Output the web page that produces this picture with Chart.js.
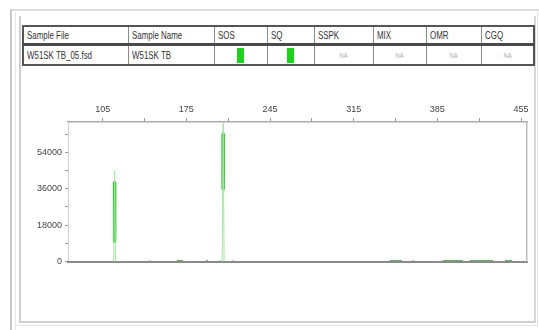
<!DOCTYPE html>
<html>
<head>
<meta charset="utf-8">
<script src="https://cdn.jsdelivr.net/npm/chart.js@4/dist/chart.umd.min.js"></script>
<style>
  html, body { margin: 0; padding: 0; background: #fff; }
  body { width: 539px; height: 330px; position: relative; overflow: hidden;
         font-family: "Liberation Sans", Arial, sans-serif; }
  .frameTop { position: absolute; left: 11px; top: 9px; width: 528px; height: 0; border-top: 2px solid #dcdcdc; }
  .frameLeft { position: absolute; left: 10px; top: 9px; width: 2px; height: 321px; background: #c9c9c9; }
  .frameLeft2 { position: absolute; left: 15px; top: 12px; width: 1px; height: 318px; background: #e6e6e6; }
  .panel { position: absolute; left: 19px; top: 16px; width: 513px; height: 305px;
           border-left: 2px solid #cfcfcf; border-bottom: 2px solid #cfcfcf; border-right: 2px solid #d8d8d8; }
  .outerBottom { position: absolute; left: 15px; top: 325px; width: 522px; height: 0; border-top: 1px solid #e2e2e2; }
  .outerRight { position: absolute; left: 537px; top: 12px; width: 0; height: 314px; border-left: 1px solid #e2e2e2; }
  table.info { position: absolute; left: 22px; top: 25px; border-collapse: collapse; table-layout: fixed;
               width: 511px; font-size: 11px; color: #333; }
  table.info td { border-left: 1px solid #8a8a8a; padding: 0 0 0 3px; white-space: nowrap; overflow: hidden; }
  table.info td span.txt { display: inline-block; transform: scaleX(0.72); transform-origin: 0 50%; }
  table.info tr.head td { height: 16px; border-top: 2px solid #555; border-bottom: 3px solid #4a4a4a; }
  table.info tr.row td { height: 18px; border-bottom: 2px solid #555; }
  table.info td:first-child { border-left: 2px solid #555; }
  table.info td:last-child { border-right: 2px solid #555; }
  table.info td.mid { text-align: center; padding: 0; }
  table.info td.na { text-align: center; padding: 0; color: #aaa; font-size: 8px; }
  table.info td.na span.txt { transform-origin: 50% 50%; }
  .flag { display: inline-block; width: 7px; height: 15px; background: #1ed11e; vertical-align: middle; }
  #chartBox { position: absolute; left: 20px; top: 90px; width: 515px; height: 180px; }
</style>
</head>
<body>
<div class="frameTop"></div>
<div class="frameLeft"></div>
<div class="frameLeft2"></div>
<div class="outerBottom"></div>
<div class="outerRight"></div>
<div class="panel"></div>

<table class="info" id="info">
  <colgroup>
    <col style="width:105px"><col style="width:86px"><col style="width:53px"><col style="width:47px">
    <col style="width:59px"><col style="width:53px"><col style="width:55px"><col style="width:53px">
  </colgroup>
  <tr class="head" id="headRow"></tr>
  <tr class="row" id="valueRow"></tr>
</table>

<div id="chartBox"><canvas id="chart"></canvas></div>

<script>
// Sample table contents
const columnNames = ["Sample File", "Sample Name", "SOS", "SQ", "SSPK", "MIX", "OMR", "CGQ"];
const sampleFile = "W51SK TB_05.fsd";
const sampleName = "W51SK TB";
const passFlags = ["SOS", "SQ"];
const naColumns = ["SSPK", "MIX", "OMR", "CGQ"];

// Main peaks: apex size (bp), apex height (RFU), half-width of base (bp)
const peakSize = [115.0, 205.8];
const peakRfu = [45000, 68400];
const peakHalfWidth = [0.7, 0.8];
// Dense (saturated) part of each peak trace, in RFU
const coreLow = [10000, 36000];
const coreHigh = [39000, 63000];

// Low-level baseline signal: start size, end size, signal (RFU)
const bumpStart = [143.6, 166.8, 191.4, 202.6, 213.6, 345.0, 364.0, 389.6, 412.0, 441.6];
const bumpEnd   = [145.2, 172.2, 193.0, 203.6, 215.0, 355.5, 365.4, 406.4, 431.6, 447.6];
const bumpRfu   = [300, 500, 500, 300, 300, 500, 400, 500, 500, 500];

// Axis ticks
const xTickValues = [105, 140, 175, 210, 245, 280, 315, 350, 385, 420, 455];
const xLabelValues = [105, 175, 245, 315, 385, 455];
const yTickValues = [0, 9000, 18000, 27000, 36000, 45000, 54000, 63000];
const yLabelValues = [0, 18000, 36000, 54000];

// Build the table
function textSpan(t) {
  const s = document.createElement("span");
  s.className = "txt";
  s.textContent = t;
  return s;
}
const headRow = document.getElementById("headRow");
columnNames.forEach(name => {
  const td = document.createElement("td");
  td.appendChild(textSpan(name));
  headRow.appendChild(td);
});
const valueRow = document.getElementById("valueRow");
columnNames.forEach((name, i) => {
  const td = document.createElement("td");
  if (i === 0) td.appendChild(textSpan(sampleFile));
  else if (i === 1) td.appendChild(textSpan(sampleName));
  else if (passFlags.includes(name)) {
    td.className = "mid";
    const f = document.createElement("span");
    f.className = "flag";
    td.appendChild(f);
  } else if (naColumns.includes(name)) {
    td.className = "na";
    td.appendChild(textSpan("NA"));
  }
  valueRow.appendChild(td);
});

// Peak outlines (thin spikes) and their dense cores, separated by gaps
const outlinePoints = [];
const corePoints = [];
peakSize.forEach((s, i) => {
  outlinePoints.push({ x: s - peakHalfWidth[i], y: 0 }, { x: s, y: peakRfu[i] },
                     { x: s + peakHalfWidth[i], y: 0 }, { x: s + peakHalfWidth[i] + 0.1, y: null });
  corePoints.push({ x: s, y: coreLow[i] }, { x: s, y: coreHigh[i] }, { x: s + 0.1, y: null });
});

// Baseline signal as separate dashes
const bumpPoints = [];
bumpStart.forEach((s, i) => {
  bumpPoints.push({ x: s, y: bumpRfu[i] }, { x: bumpEnd[i], y: bumpRfu[i] }, { x: bumpEnd[i] + 0.1, y: null });
});

const tickFont = { family: "'Liberation Sans', Arial, sans-serif", size: 9 };

new Chart(document.getElementById("chart"), {
  type: "line",
  data: {
    datasets: [{
      data: outlinePoints,
      borderColor: "#a6e4a6",
      borderWidth: 1,
      pointRadius: 0,
      tension: 0,
      fill: false,
      spanGaps: false
    }, {
      data: corePoints,
      borderColor: "#2ec42e",
      borderWidth: 3.5,
      borderCapStyle: "round",
      pointRadius: 0,
      fill: false,
      spanGaps: false
    }, {
      data: bumpPoints,
      borderColor: "#5aa65a",
      borderWidth: 1,
      pointRadius: 0,
      tension: 0,
      fill: false,
      spanGaps: false
    }]
  },
  options: {
    responsive: true,
    maintainAspectRatio: false,
    animation: false,
    layout: { padding: { top: 0, right: 8, bottom: 8, left: 0 } },
    plugins: { legend: { display: false }, tooltip: { enabled: false } },
    scales: {
      x: {
        type: "linear", position: "top", min: 76, max: 460,
        afterBuildTicks: s => { s.ticks = xTickValues.map(v => ({ value: v })); },
        afterFit: s => { s.height = 32; },
        ticks: {
          autoSkip: false, maxRotation: 0, padding: 3, color: "#444", font: tickFont,
          callback: v => xLabelValues.includes(v) ? String(v) : ""
        },
        grid: { drawOnChartArea: false, drawTicks: true, tickLength: 4, tickColor: "#999" },
        border: { color: "#aaa", width: 1.5 }
      },
      y: {
        type: "linear", position: "left", min: 0, max: 69000,
        afterBuildTicks: s => { s.ticks = yTickValues.map(v => ({ value: v })); },
        afterFit: s => { s.width = 48; },
        ticks: {
          autoSkip: false, padding: 3, color: "#444", font: tickFont,
          callback: v => yLabelValues.includes(v) ? String(v) : ""
        },
        grid: { drawOnChartArea: false, drawTicks: true, tickLength: 3, tickColor: "#999" },
        border: { color: "#d0d0d0", width: 1 }
      },
      x2: {
        type: "linear", position: "bottom", min: 76, max: 460,
        afterFit: s => { s.height = 0; },
        ticks: { display: false },
        grid: { display: false },
        border: { color: "#8a8a8a", width: 2 }
      },
      y2: {
        type: "linear", position: "right", min: 0, max: 69000,
        afterFit: s => { s.width = 0; },
        ticks: { display: false },
        grid: { display: false },
        border: { color: "#bdbdbd", width: 1.5 }
      }
    }
  }
});
</script>
</body>
</html>
